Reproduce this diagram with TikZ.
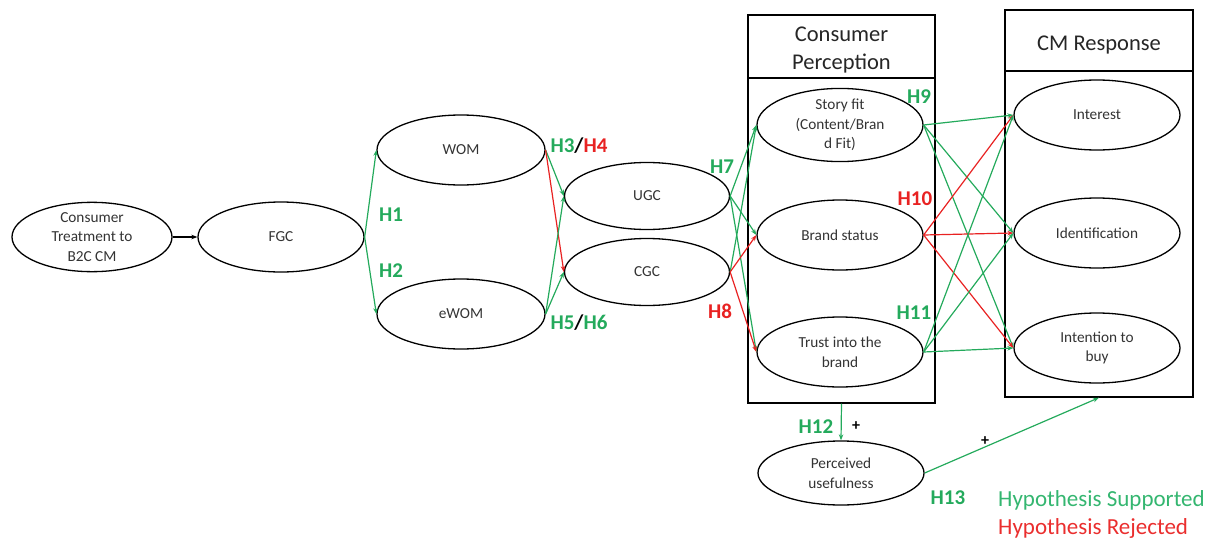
\documentclass[tikz,border=0pt]{standalone}
\usepackage{fontspec}
\setmainfont{Carlito}
\usetikzlibrary{shapes.geometric,arrows.meta}
\definecolor{hgreen}{RGB}{36,170,92}
\definecolor{hred}{RGB}{232,34,34}
\definecolor{lgreen}{RGB}{52,182,112}
\definecolor{lred}{RGB}{234,46,46}

\begin{document}
\begin{tikzpicture}[x=1pt,y=-1pt,
  construct/.style={ellipse,draw,line width=1.3pt,minimum width=166pt,minimum height=70pt,
    inner sep=0pt,align=center,text=black!80,font=\fontsize{15.3}{19.5}\selectfont},
  panel/.style={draw,line width=1.4pt,inner sep=0pt},
  title/.style={inner sep=0pt,align=center,text=black!85,font=\fontsize{22.5}{28}\selectfont},
  sup/.style={draw=hgreen,line width=1.2pt,-{Stealth[length=6pt,width=4.5pt]}},
  rej/.style={draw=hred,line width=1.2pt,-{Stealth[length=6pt,width=4.5pt]}},
  plain/.style={draw=black,line width=1.3pt,-{Stealth[length=6pt,width=4.5pt]}},
  hyp/.style={font=\fontsize{21}{21}\selectfont\bfseries,inner sep=0pt},
  sign/.style={font=\fontsize{16}{16}\selectfont\bfseries,inner sep=0pt},
  legend/.style={font=\fontsize{23}{23}\selectfont,inner sep=0pt,anchor=base west}
]
\useasboundingbox (0,0) rectangle (1216,538);

% grouping panels with their header rows
\node[panel,minimum width=187pt,minimum height=388pt] (cpbox) at (841.5,209) {};
\node[panel,minimum width=187pt,minimum height=63pt] (cphead) at (841.5,46.5) {};
\node[title,anchor=base] (cptitle) at (841.5,41) {Consumer};
\node[title,anchor=base] (cptitle2) at (841.5,69) {Perception};
\node[panel,minimum width=188pt,minimum height=387pt] (cmbox) at (1099,203.5) {};
\node[panel,minimum width=188pt,minimum height=61pt] (cmhead) at (1099,40.5) {};
\node[title,anchor=base] (cmtitle) at (1099,50) {CM Response};

% constructs
\node[construct,minimum width=160pt,minimum height=66pt] (ct) at (92,237) {Consumer\\Treatment to\\B2C CM};
\node[construct] (fgc) at (281,237) {FGC};
\node[construct,minimum width=168pt] (wom) at (461,150) {WOM};
\node[construct,minimum width=168pt] (ewom) at (461,314) {eWOM};
\node[construct,minimum width=165pt,minimum height=67pt] (ugc) at (647,196) {UGC};
\node[construct,minimum width=165pt,minimum height=67pt] (cgc) at (647,272) {CGC};
\node[construct] (story) at (840,125) {Story fit\\(Content/Bran\\d Fit)};
\node[construct] (status) at (840,235) {Brand status};
\node[construct] (trust) at (840,352) {Trust into the\\brand};
\node[construct] (interest) at (1097,115) {Interest};
\node[construct] (ident) at (1097,233) {Identification};
\node[construct] (intent) at (1097,348) {Intention to\\buy};
\node[construct,minimum height=64pt] (pu) at (841,473) {Perceived\\usefulness};

% paths
\draw[plain] (ct.east) -- (fgc.west);
\draw[sup] (fgc.east) -- (wom.west);
\draw[sup] (fgc.east) -- (ewom.west);
\draw[sup] (wom.east) -- (ugc.west);
\draw[rej] (wom.east) -- (cgc.west);
\draw[sup] (ewom.east) -- (ugc.west);
\draw[sup] (ewom.east) -- (cgc.west);
\draw[sup] (ugc.east) -- (story.west);
\draw[sup] (ugc.east) -- (status.west);
\draw[sup] (ugc.east) -- (trust.west);
\draw[sup] (cgc.east) -- (story.west);
\draw[rej] (cgc.east) -- (status.west);
\draw[rej] (cgc.east) -- (trust.west);
\draw[sup] (story.east) -- (interest.west);
\draw[sup] (story.east) -- (ident.west);
\draw[sup] (story.east) -- (intent.west);
\draw[rej] (status.east) -- (interest.west);
\draw[rej] (status.east) -- (ident.west);
\draw[rej] (status.east) -- (intent.west);
\draw[sup] (trust.east) -- (interest.west);
\draw[sup] (trust.east) -- (ident.west);
\draw[sup] (trust.east) -- (intent.west);
\draw[sup] (cpbox.south) -- (pu.north);
\draw[sup] (pu.east) -- (cmbox.south);

% hypothesis labels
\node[hyp,text=hgreen] (h1) at (391,215) {H1};
\node[hyp,text=hgreen] (h2) at (391,271) {H2};
\node[hyp] (h34) at (579,146) {\textcolor{hgreen}{H3}/\textcolor{hred}{H4}};
\node[hyp] (h56) at (579,323) {\textcolor{hgreen}{H5}/\textcolor{hgreen}{H6}};
\node[hyp,text=hgreen] (h7) at (722,167) {H7};
\node[hyp,text=hred] (h8) at (720,311) {H8};
\node[hyp,text=hgreen] (h9) at (919,97) {H9};
\node[hyp,text=hred] (h10) at (915,199) {H10};
\node[hyp,text=hgreen] (h11) at (914,313) {H11};
\node[hyp,text=hgreen] (h12) at (816,427) {H12};
\node[sign] (p12) at (856,426) {+};
\node[sign] (p13) at (985,441) {+};
\node[hyp,text=hgreen] (h13) at (948,498) {H13};

% legend
\node[legend,text=lgreen] (lsup) at (998,506) {Hypothesis Supported};
\node[legend,text=lred] (lrej) at (998,534) {Hypothesis Rejected};
\end{tikzpicture}
\end{document}
